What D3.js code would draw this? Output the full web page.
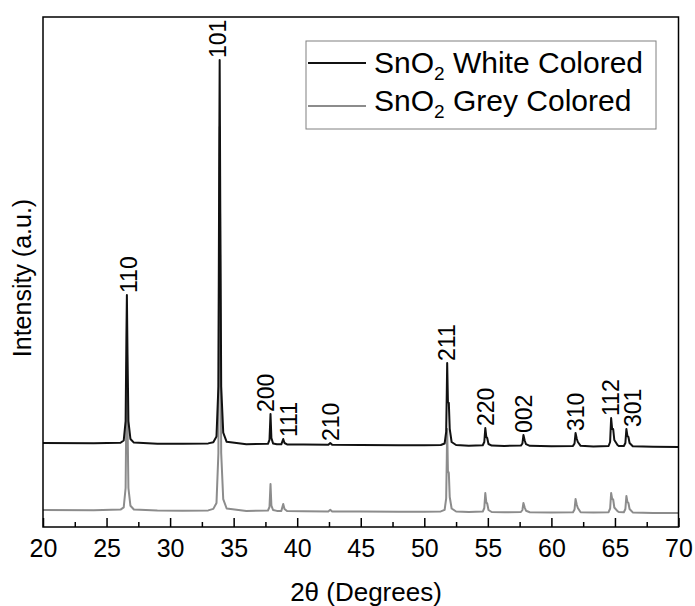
<!DOCTYPE html>
<html>
<head>
<meta charset="utf-8">
<script src="https://cdnjs.cloudflare.com/ajax/libs/d3/7.8.5/d3.min.js"></script>
<style>
  body { margin: 0; background: #fff; }
  text { font-family: "Liberation Sans", Arial, sans-serif; fill: #000; }
</style>
</head>
<body>
<div id="chart"></div>
<script>
// scan data: [2theta, counts]
var whiteScan = [
  [20,190],[24,187],[26.1,192],[26.35,215],[26.5,408],[26.56,1225],[26.6,1670],[26.65,1076],[26.72,408],[26.88,230],[27.15,194],
  [29,183],[31,182],[33,186],[33.4,198],[33.65,256],[33.8,755],[33.86,2868],[33.9,4020],[33.95,2484],[34.02,755],[34.18,294],[34.45,202],
  [36,178],[37.7,182],[37.82,222],[37.9,480],[37.97,240],[38.1,186],[38.4,178],[38.75,177],[38.9,230],[39.0,190],[39.2,176],
  [40.5,174],[42.45,172],[42.6,190],[42.75,172],[45,171],[48,168],[50,167],
  [51.3,170],[51.6,185],[51.72,300],[51.77,700],[51.8,990],[51.86,600],[51.93,590],[52.0,330],[52.15,200],[52.5,170],
  [53.5,163],[54.6,168],[54.72,200],[54.8,340],[54.88,250],[54.95,240],[55.05,180],[55.3,164],
  [56.3,161],[57.6,164],[57.72,185],[57.8,270],[57.9,215],[58.0,178],[58.3,162],
  [60,158],[61.7,161],[61.82,185],[61.9,290],[62.0,230],[62.08,200],[62.3,162],
  [63.3,156],[64.5,160],[64.62,200],[64.7,440],[64.78,330],[64.86,330],[64.95,220],[65.2,170],[65.3,160],
  [65.7,160],[65.82,190],[65.9,330],[65.98,260],[66.06,250],[66.15,190],[66.4,158],[68,152],[70,150]
];

var greyScan = [
  [20,170],[24,168],[26.1,174],[26.35,196],[26.5,390],[26.56,1200],[26.6,1650],[26.65,1050],[26.72,390],[26.88,212],[27.15,175],
  [29,165],[31,163],[33,166],[33.4,181],[33.65,240],[33.8,740],[33.86,2850],[33.9,4000],[33.95,2470],[34.02,740],[34.18,278],[34.45,185],
  [36,161],[37.7,165],[37.82,200],[37.9,430],[37.97,215],[38.1,170],[38.4,161],[38.75,161],[38.9,230],[39.0,180],[39.2,160],
  [40.5,158],[42.45,156],[42.6,172],[42.75,156],[45,155],[48,153],[50,152],
  [51.3,156],[51.6,172],[51.72,285],[51.77,690],[51.8,980],[51.86,560],[51.93,540],[52.0,300],[52.15,185],[52.5,155],
  [53.5,150],[54.6,154],[54.72,190],[54.8,340],[54.88,245],[54.95,235],[55.05,170],[55.3,150],
  [56.3,148],[57.6,150],[57.72,170],[57.8,240],[57.9,195],[58.0,163],[58.3,148],
  [60,146],[61.7,148],[61.82,175],[61.9,280],[62.0,220],[62.08,190],[62.3,148],
  [63.3,144],[64.5,148],[64.62,185],[64.7,340],[64.78,280],[64.86,275],[64.95,195],[65.2,158],[65.3,150],
  [65.7,148],[65.82,180],[65.9,310],[65.98,250],[66.06,240],[66.15,180],[66.4,146],[68,141],[70,140]
];

var whiteShift = 650; // vertical offset of the white pattern

var peakPos = [26.6, 33.9, 37.9, 38.9, 42.6, 51.8, 54.8, 57.8, 61.9, 64.7, 65.9];
var peakHkl = ["110", "101", "200", "111", "210", "211", "220", "002", "310", "112", "301"];

var majorTicks = [20, 25, 30, 35, 40, 45, 50, 55, 60, 65, 70];
var minorTicks = [22.5, 27.5, 32.5, 37.5, 42.5, 47.5, 52.5, 57.5, 62.5, 67.5];

var seriesNames = ["White Colored", "Grey Colored"];
var seriesColors = ["#111111", "#8c8c8c"];

var W = 695, H = 606;
var box = {left: 43, right: 678.5, top: 17, bottom: 527};

var svg = d3.select("#chart")
  .append("svg")
  .attr("width", W)
  .attr("height", H);

var x = d3.scaleLinear()
  .domain([20, 70])
  .range([box.left, box.right]);

var y = d3.scaleLinear()
  .domain([0, 5100])
  .range([box.bottom, box.top]);

var line = d3.line()
  .x(function(d) { return x(d[0]); })
  .y(function(d) { return y(d[1]); });

// grey underneath, white pattern shifted up on top
svg.append("path")
  .datum(greyScan)
  .attr("d", line)
  .attr("fill", "none")
  .attr("stroke", seriesColors[1])
  .attr("stroke-width", 2)
  .attr("stroke-linejoin", "round");

svg.append("path")
  .datum(whiteScan.map(function(d) { return [d[0], d[1] + whiteShift]; }))
  .attr("d", line)
  .attr("fill", "none")
  .attr("stroke", seriesColors[0])
  .attr("stroke-width", 2)
  .attr("stroke-linejoin", "round");

// hkl labels above each white peak
var labelNudge = {"200": -5, "111": 5, "301": 6, "110": 2, "101": -2};

peakPos.forEach(function(p, i) {
  var top = d3.max(whiteScan.filter(function(d) { return Math.abs(d[0] - p) < 0.2; }),
    function(d) { return d[1]; }) + whiteShift;
  var lx = x(p) + (labelNudge[peakHkl[i]] || 0);
  var ly = y(top) - 2;
  svg.append("text")
    .attr("transform", "translate(" + lx + "," + ly + ") rotate(-90)")
    .attr("dy", "0.36em")
    .style("font-size", "23px")
    .text(peakHkl[i]);
});

// bottom axis, ticks pointing inward
var xAxis = d3.axisBottom(x)
  .tickValues(majorTicks)
  .tickSize(-9)
  .tickPadding(13)
  .tickFormat(d3.format("d"));

var gx = svg.append("g")
  .attr("transform", "translate(0," + box.bottom + ")")
  .call(xAxis);
gx.select(".domain").remove();
gx.selectAll("line").attr("stroke", "#000").attr("stroke-width", 1.5);
gx.selectAll("text")
  .style("font-size", "25px")
  .attr("dy", "0.69em");

var gm = svg.append("g")
  .attr("transform", "translate(0," + box.bottom + ")")
  .call(d3.axisBottom(x).tickValues(minorTicks).tickSize(-5).tickFormat(""));
gm.select(".domain").remove();
gm.selectAll("line").attr("stroke", "#000").attr("stroke-width", 1.5);

// frame
svg.append("rect")
  .attr("x", box.left)
  .attr("y", box.top)
  .attr("width", box.right - box.left)
  .attr("height", box.bottom - box.top)
  .attr("fill", "none")
  .attr("stroke", "#000")
  .attr("stroke-width", 1.5);

// axis titles
svg.append("text")
  .attr("x", 366)
  .attr("y", 601)
  .attr("text-anchor", "middle")
  .style("font-size", "26px")
  .text("2\u03B8 (Degrees)");

svg.append("text")
  .attr("transform", "translate(31," + ((box.top + box.bottom) / 2 + 6) + ") rotate(-90)")
  .attr("text-anchor", "middle")
  .style("font-size", "25px")
  .text("Intensity (a.u.)");

// legend
var legend = svg.append("g");
legend.append("rect")
  .attr("x", 306)
  .attr("y", 41)
  .attr("width", 350)
  .attr("height", 88)
  .attr("fill", "#fff")
  .attr("stroke", "#808080")
  .attr("stroke-width", 1);

var rowLine = [63, 106], rowText = [73, 111];
seriesNames.forEach(function(name, i) {
  legend.append("line")
    .attr("x1", 308).attr("x2", 366)
    .attr("y1", rowLine[i]).attr("y2", rowLine[i])
    .attr("stroke", seriesColors[i])
    .attr("stroke-width", 2);
  var t = legend.append("text")
    .attr("x", 374)
    .attr("y", rowText[i])
    .style("font-size", "30px");
  t.append("tspan").text("SnO");
  t.append("tspan").attr("dy", 7).style("font-size", "19px").text("2");
  t.append("tspan").attr("dy", -7).text(" " + name);
});
</script>
</body>
</html>
